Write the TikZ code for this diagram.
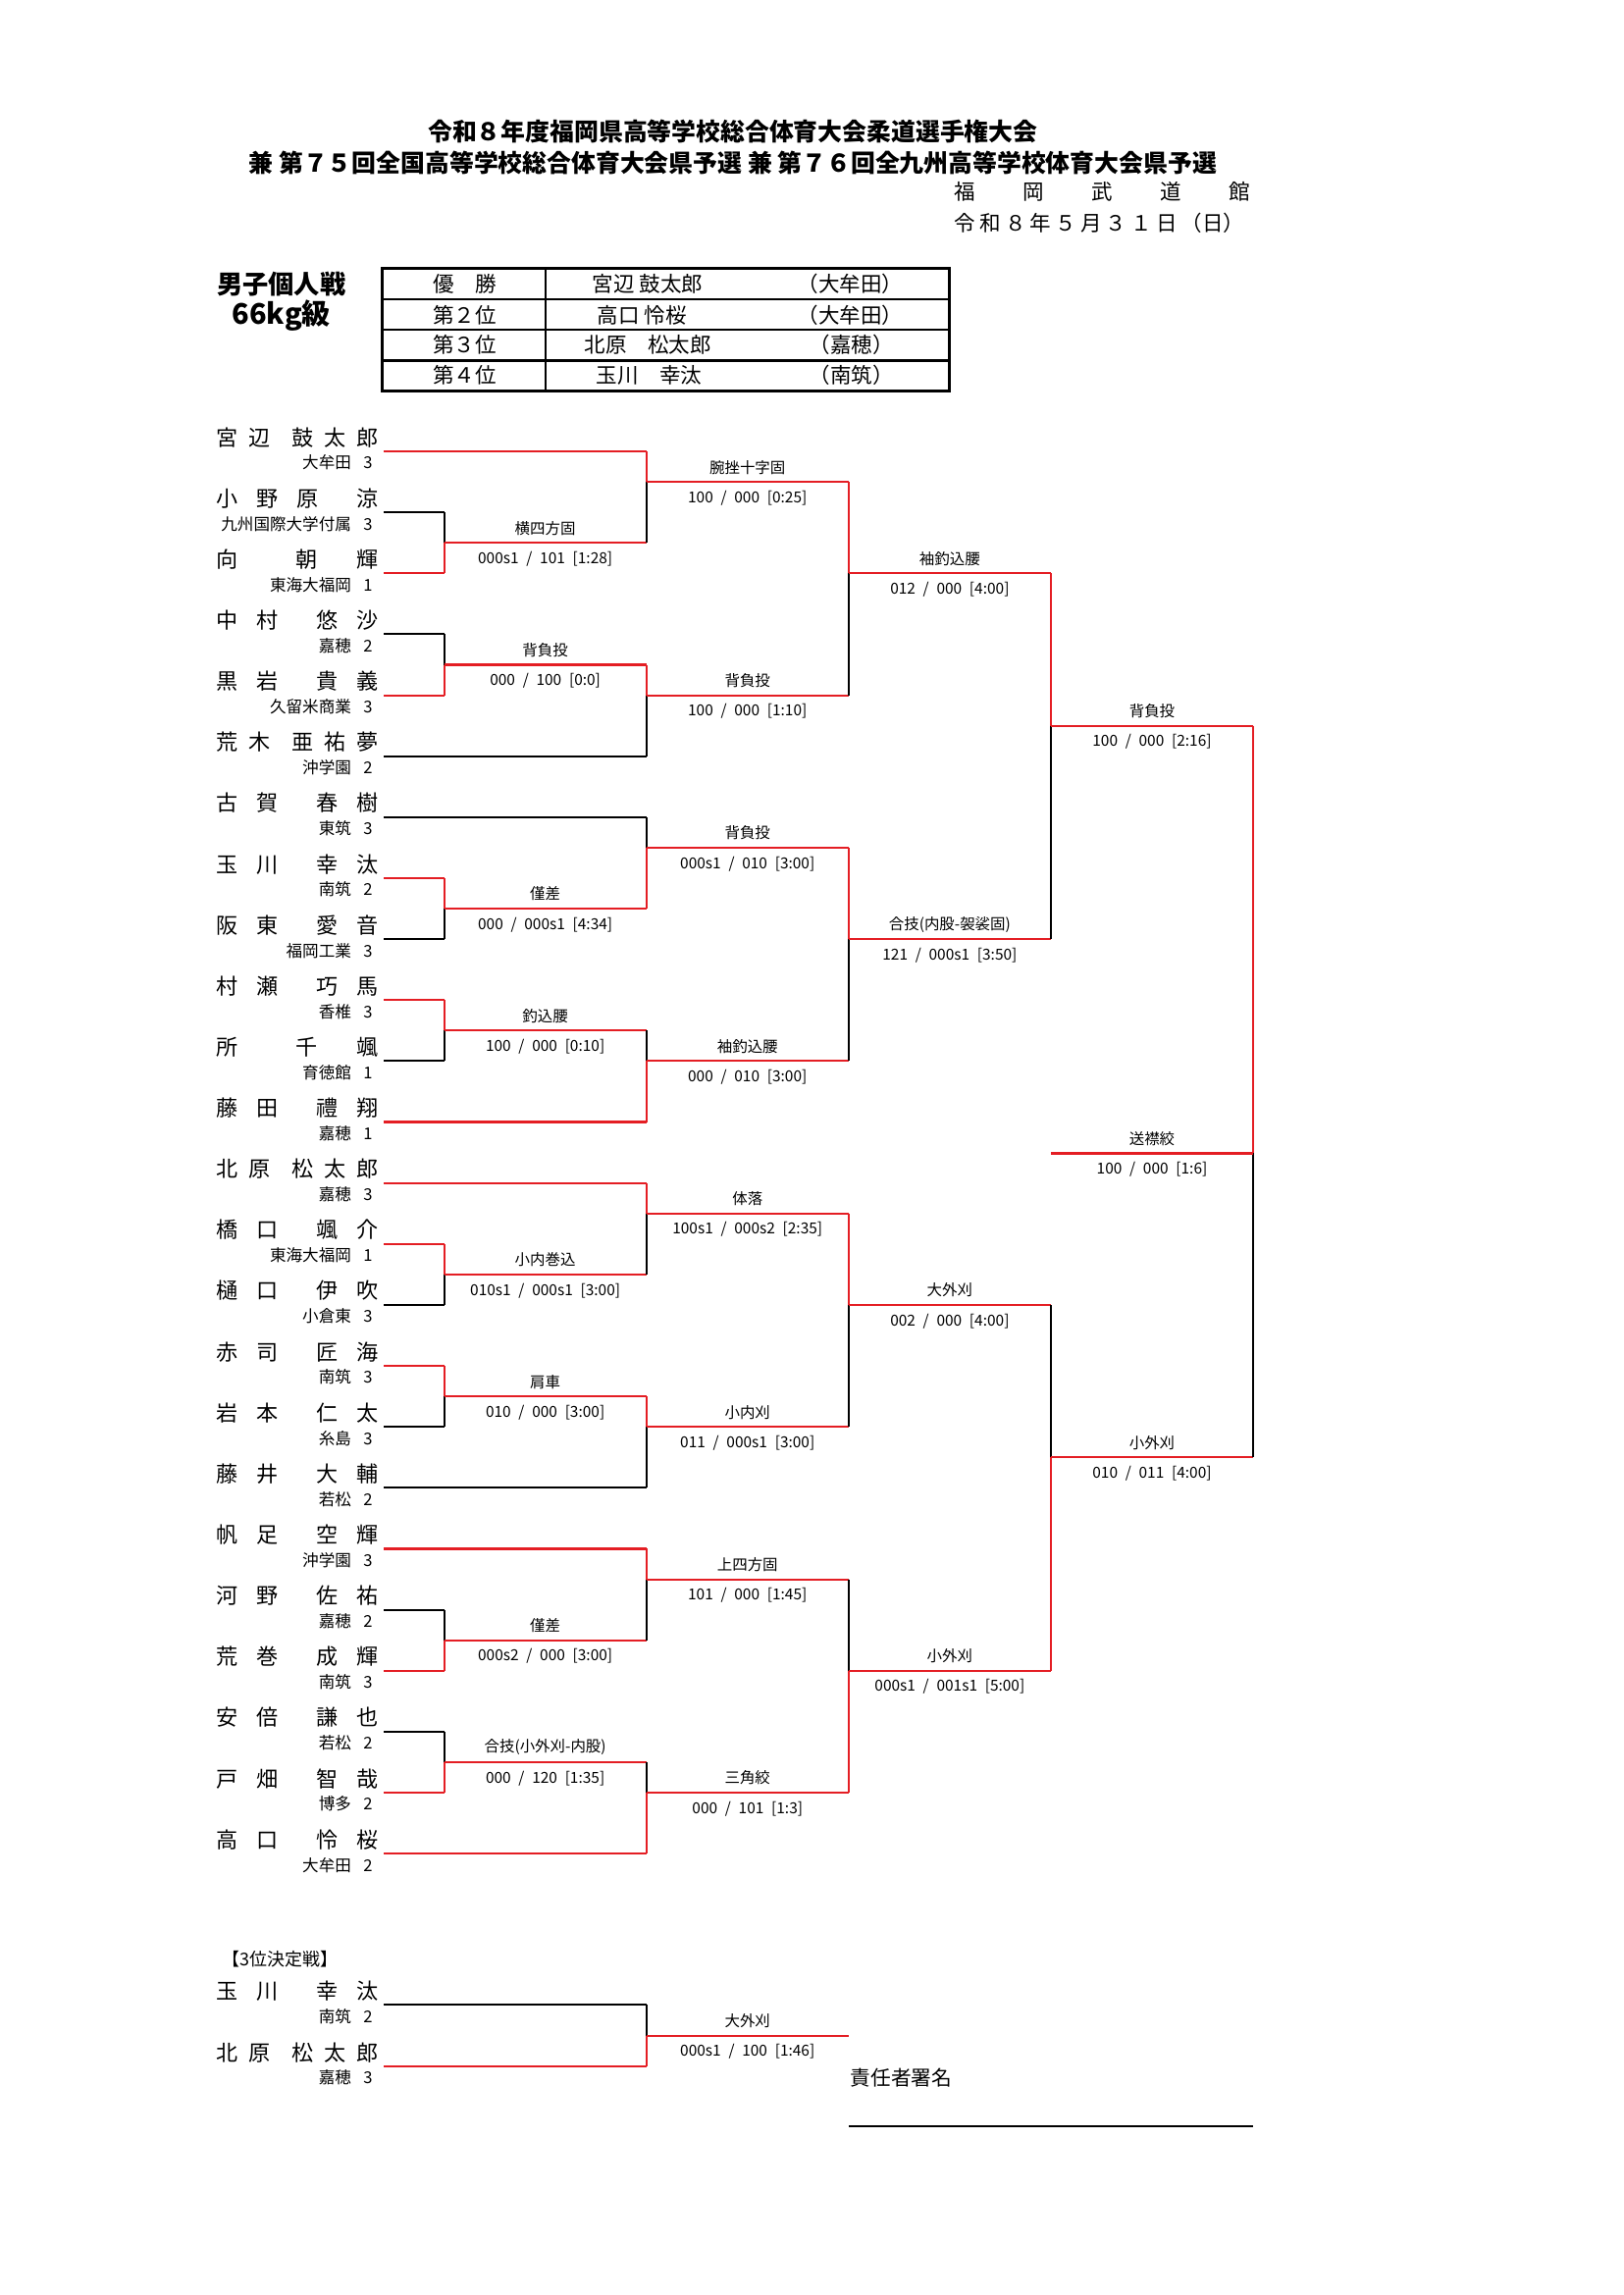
\documentclass[tikz,border=0pt]{standalone}
\usepackage{fontspec}
\setmainfont{Noto Sans CJK JP}
\definecolor{rd}{RGB}{228,30,36}
\tikzset{
  blk/.style={draw=black,line width=0.75pt},
  red/.style={draw=rd,line width=0.75pt},
  nm/.style={inner sep=0pt,font=\fontsize{8}{8}\selectfont},
  sc/.style={inner sep=0pt,font=\fontsize{6}{6}\selectfont},
  tq/.style={inner sep=0pt,font=\fontsize{5.6}{6}\selectfont},
  sco/.style={inner sep=0pt,font=\fontsize{5.6}{6}\selectfont},
  ttl/.style={inner sep=0pt,font=\fontsize{9}{9}\selectfont\bfseries},
  tb/.style={inner sep=0pt,font=\fontsize{7.8}{8}\selectfont},
}
\newcommand\slsep{\enspace/\enspace}
\newcommand\pl[6]{% name-y, name, school, grade, line style, line end
  \node[nm,anchor=base west] (n#1) at (147,#1-4) {\hbox to 60pt{#2}};
  \node[sc,anchor=base east] (s#1) at (240,#1+12) {#3};
  \node[sc,anchor=base] (g#1) at (251,#1+12) {#4};
  \draw[#5] (262,#1) -- (#6,#1);
}
\newcommand\mt[8]{% x, ytop, ybot, yout, topstyle, botstyle, label, score
  \draw[#5] (#1,#2) -- (#1,#4);
  \draw[#6] (#1,#4) -- (#1,#3);
  \draw[red] (#1,#4) -- ++(138,0);
  \node[tq] at ($(#1,#4)+(69,-10)$) {#7};
  \node[sco] at ($(#1,#4)+(69,11)$) {#8};
}
\usetikzlibrary{calc}
\begin{document}
\begin{tikzpicture}[x=0.541pt,y=-0.541pt]
\useasboundingbox (0,0) rectangle (1108,1566);
% titles
\node[ttl] (t1) at (500,90) {令和８年度福岡県高等学校総合体育大会柔道選手権大会};
\node[ttl] (t2) at (500,111) {兼\ 第７５回全国高等学校総合体育大会県予選\ 兼\ 第７６回全九州高等学校体育大会県予選};
\node[tb,anchor=west] (t3) at (651,131) {\hbox to 109pt{福\hfill 岡\hfill 武\hfill 道\hfill 館}};
\node[tb,anchor=west] (t4) at (651,152) {\hbox to 107pt{令\hfill 和\hfill ８\hfill 年\hfill ５\hfill 月\hfill ３\hfill １\hfill 日\hfill （日）}};
\node[inner sep=0pt,font=\fontsize{9.5}{10}\selectfont\bfseries] (h1) at (192,194) {男子個人戦};
\node[inner sep=0pt,font=\fontsize{10.5}{11}\selectfont\bfseries] (h2) at (192,215) {66kg級};
% table
\draw[line width=1pt] (261,183) rectangle (648,267);
\foreach \yy in {204,225,246} \draw[line width=0.8pt] (261,\yy) -- (648,\yy);
\draw[line width=0.8pt] (372,183) -- (372,267);
\node[tb] (r1) at (317,194) {優\quad 勝};
\node[tb] (r2) at (317,215) {第２位};
\node[tb] (r3) at (317,235) {第３位};
\node[tb] (r4) at (317,256) {第４位};
\node[tb] (w1) at (442,194) {宮辺\ 鼓太郎};
\node[tb] (w2) at (438,215) {高口\ 怜桜};
\node[tb] (w3) at (442,235) {北原\quad 松太郎};
\node[tb] (w4) at (443,256) {玉川\quad 幸汰};
\node[tb] (a1) at (580,194) {（大牟田）};
\node[tb] (a2) at (580,215) {（大牟田）};
\node[tb] (a3) at (581,235) {（嘉穂）};
\node[tb] (a4) at (581,256) {（南筑）};
% players
\pl{308}{宮\hfill 辺\hfill\hfill 鼓\hfill 太\hfill 郎}{大牟田}{3}{red}{441}
\pl{349.6}{小\hfill 野\hfill 原\hfill\hfill 涼}{九州国際大学付属}{3}{blk}{303}
\pl{391.2}{向\hfill\hfill\hfill 朝\hfill\hfill 輝}{東海大福岡}{1}{red}{303}
\pl{432.8}{中\hfill 村\hfill\hfill 悠\hfill 沙}{嘉穂}{2}{blk}{303}
\pl{474.4}{黒\hfill 岩\hfill\hfill 貴\hfill 義}{久留米商業}{3}{red}{303}
\pl{516}{荒\hfill 木\hfill\hfill 亜\hfill 祐\hfill 夢}{沖学園}{2}{blk}{441}
\pl{557.6}{古\hfill 賀\hfill\hfill 春\hfill 樹}{東筑}{3}{blk}{441}
\pl{599.2}{玉\hfill 川\hfill\hfill 幸\hfill 汰}{南筑}{2}{red}{303}
\pl{640.8}{阪\hfill 東\hfill\hfill 愛\hfill 音}{福岡工業}{3}{blk}{303}
\pl{682.4}{村\hfill 瀬\hfill\hfill 巧\hfill 馬}{香椎}{3}{red}{303}
\pl{724}{所\hfill\hfill\hfill 千\hfill\hfill 颯}{育徳館}{1}{blk}{303}
\pl{765.6}{藤\hfill 田\hfill\hfill 禮\hfill 翔}{嘉穂}{1}{red}{441}
\pl{807.2}{北\hfill 原\hfill\hfill 松\hfill 太\hfill 郎}{嘉穂}{3}{red}{441}
\pl{848.8}{橋\hfill 口\hfill\hfill 颯\hfill 介}{東海大福岡}{1}{red}{303}
\pl{890.4}{樋\hfill 口\hfill\hfill 伊\hfill 吹}{小倉東}{3}{blk}{303}
\pl{932}{赤\hfill 司\hfill\hfill 匠\hfill 海}{南筑}{3}{red}{303}
\pl{973.6}{岩\hfill 本\hfill\hfill 仁\hfill 太}{糸島}{3}{blk}{303}
\pl{1015.2}{藤\hfill 井\hfill\hfill 大\hfill 輔}{若松}{2}{blk}{441}
\pl{1056.8}{帆\hfill 足\hfill\hfill 空\hfill 輝}{沖学園}{3}{red}{441}
\pl{1098.4}{河\hfill 野\hfill\hfill 佐\hfill 祐}{嘉穂}{2}{blk}{303}
\pl{1140}{荒\hfill 巻\hfill\hfill 成\hfill 輝}{南筑}{3}{red}{303}
\pl{1181.6}{安\hfill 倍\hfill\hfill 謙\hfill 也}{若松}{2}{blk}{303}
\pl{1223.2}{戸\hfill 畑\hfill\hfill 智\hfill 哉}{博多}{2}{red}{303}
\pl{1264.8}{高\hfill 口\hfill\hfill 怜\hfill 桜}{大牟田}{2}{red}{441}
% matches
\mt{303}{349.6}{391.2}{370.4}{blk}{red}{横四方固}{000s1\slsep 101\enspace[1:28]}
\mt{441}{308}{370.4}{328.8}{red}{blk}{腕挫十字固}{100\slsep 000\enspace[0:25]}
\mt{303}{432.8}{474.4}{453.6}{blk}{red}{背負投}{000\slsep 100\enspace[0:0]}
\mt{441}{453.6}{516}{474.4}{red}{blk}{背負投}{100\slsep 000\enspace[1:10]}
\mt{579}{328.8}{474.4}{391.2}{red}{blk}{袖釣込腰}{012\slsep 000\enspace[4:00]}
\mt{303}{599.2}{640.8}{620}{red}{blk}{僅差}{000\slsep 000s1\enspace[4:34]}
\mt{441}{557.6}{620}{578.4}{blk}{red}{背負投}{000s1\slsep 010\enspace[3:00]}
\mt{303}{682.4}{724}{703.2}{red}{blk}{釣込腰}{100\slsep 000\enspace[0:10]}
\mt{441}{703.2}{765.6}{724}{blk}{red}{袖釣込腰}{000\slsep 010\enspace[3:00]}
\mt{579}{578.4}{724}{640.8}{red}{blk}{合技(内股-袈裟固)}{121\slsep 000s1\enspace[3:50]}
\mt{717}{391.2}{640.8}{495.2}{red}{blk}{背負投}{100\slsep 000\enspace[2:16]}
\mt{303}{848.8}{890.4}{869.6}{red}{blk}{小内巻込}{010s1\slsep 000s1\enspace[3:00]}
\mt{441}{807.2}{869.6}{828}{red}{blk}{体落}{100s1\slsep 000s2\enspace[2:35]}
\mt{303}{932}{973.6}{952.8}{red}{blk}{肩車}{010\slsep 000\enspace[3:00]}
\mt{441}{952.8}{1015.2}{973.6}{red}{blk}{小内刈}{011\slsep 000s1\enspace[3:00]}
\mt{579}{828}{973.6}{890.4}{red}{blk}{大外刈}{002\slsep 000\enspace[4:00]}
\mt{303}{1098.4}{1140}{1119.2}{blk}{red}{僅差}{000s2\slsep 000\enspace[3:00]}
\mt{441}{1056.8}{1119.2}{1077.6}{red}{blk}{上四方固}{101\slsep 000\enspace[1:45]}
\mt{303}{1181.6}{1223.2}{1202.4}{blk}{red}{合技(小外刈-内股)}{000\slsep 120\enspace[1:35]}
\mt{441}{1202.4}{1264.8}{1223.2}{blk}{red}{三角絞}{000\slsep 101\enspace[1:3]}
\mt{579}{1077.6}{1223.2}{1140}{blk}{red}{小外刈}{000s1\slsep 001s1\enspace[5:00]}
\mt{717}{890.4}{1140}{994.4}{blk}{red}{小外刈}{010\slsep 011\enspace[4:00]}
% final
\draw[red] (855,495.2) -- (855,787);
\draw[blk] (855,787) -- (855,994.4);
\draw[red] (717,787) -- (855,787);
\node[tq] (fl) at (786,777) {送襟絞};
\node[sco] (fs) at (786,798) {100\slsep 000\enspace[1:6]};
% third place
\node[inner sep=0pt,font=\fontsize{6.5}{7}\selectfont] (th) at (191,1337) {【3位決定戦】};
\pl{1368}{玉\hfill 川\hfill\hfill 幸\hfill 汰}{南筑}{2}{blk}{441}
\pl{1410}{北\hfill 原\hfill\hfill 松\hfill 太\hfill 郎}{嘉穂}{3}{red}{441}
\mt{441}{1368}{1410}{1389}{blk}{red}{大外刈}{000s1\slsep 100\enspace[1:46]}
\node[inner sep=0pt,font=\fontsize{7.5}{8}\selectfont,anchor=west] (sig) at (580,1418) {責任者署名};
\coordinate (sa) at (579,1451);
\coordinate (sb) at (855,1451);
\draw[line width=0.8pt] (sa) -- (sb);
\end{tikzpicture}
\end{document}
